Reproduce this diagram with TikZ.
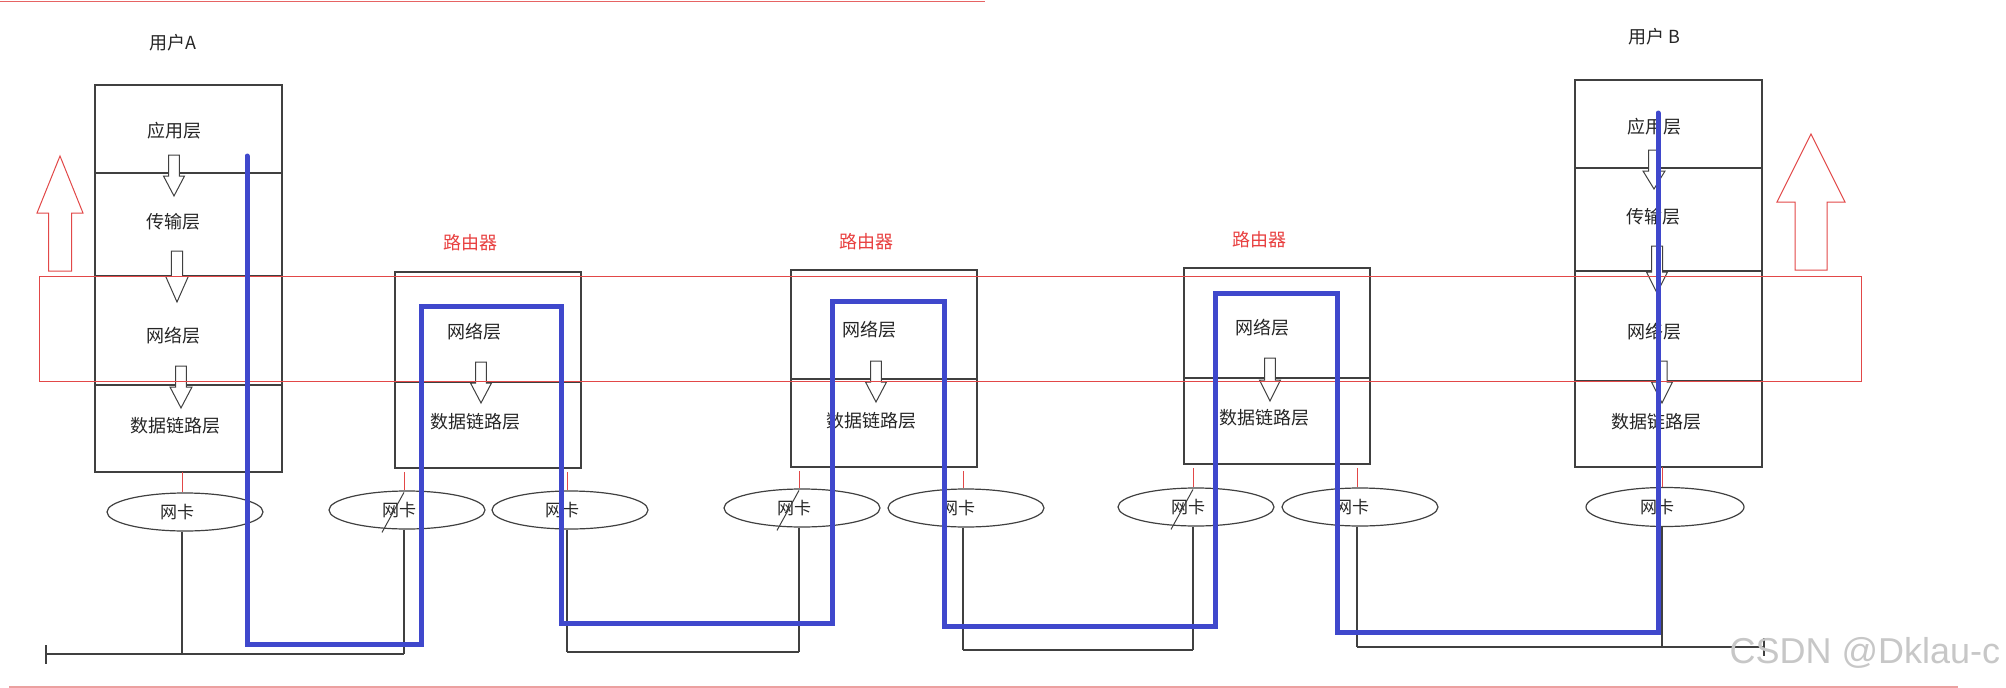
\documentclass[tikz,border=0pt]{standalone}
\usepackage{fontspec}
\newfontfamily\cjk{Noto Sans CJK SC}
\newfontfamily\wmfont{Liberation Sans}
\usetikzlibrary{shapes.geometric,calc}
\definecolor{pathblue}{RGB}{63,72,204}
\definecolor{linegray}{RGB}{64,64,64}
\definecolor{bandred}{RGB}{226,72,72}
\definecolor{labelred}{RGB}{232,64,64}
\definecolor{pinkline}{RGB}{236,160,160}
\newcommand\harrow[7]{\draw[#1] (#2-#6,#3) -- (#2+#6,#3) -- (#2+#6,#4) -- (#2+#7,#4) -- (#2,#5) -- (#2-#7,#4) -- (#2-#6,#4) -- cycle;}
\begin{document}
\begin{tikzpicture}[x=1pt,y=-1pt,
  cell/.style={draw=linegray, line width=1.4pt, inner sep=0pt, outer sep=0pt, anchor=north west},
  layertext/.style={font=\cjk\fontsize{18}{20}\selectfont, text=black!85, inner sep=0pt},
  routerlabel/.style={font=\cjk\fontsize{18}{20}\selectfont, text=labelred, inner sep=0pt},
  nic/.style={ellipse, draw=linegray, line width=1.2pt, minimum width=156pt, minimum height=38pt, inner sep=0pt},
  nictext/.style={font=\cjk\fontsize{17}{19}\selectfont, text=black!85, inner sep=0pt},
  blk/.style={draw=linegray, line width=1.3pt},
  redthin/.style={draw=bandred, line width=1pt},
  hollow/.style={draw=linegray, line width=1pt, fill=white},
  redhollow/.style={draw=bandred, line width=1pt, fill=white},
  route/.style={draw=pathblue, line width=5pt, line cap=round, line join=miter}
]
\useasboundingbox (0,0) rectangle (2006,688);

% frame lines
\draw[draw=bandred!85, line width=1pt] (0,1) -- (985,1);
\draw[draw=pinkline, line width=1.5pt] (9,687) -- (1958,687);

% ---- user A stack
\node[layertext] (labA) at (173,43) {用户A};
\node[cell, minimum width=187pt, minimum height=88pt]  (A1) at (95,85) {};
\node[cell, minimum width=187pt, minimum height=103pt] (A2) at (95,173) {};
\node[cell, minimum width=187pt, minimum height=109pt] (A3) at (95,276) {};
\node[cell, minimum width=187pt, minimum height=87pt]  (A4) at (95,385) {};
\node[layertext] (tA1) at (174,131) {应用层};
\node[layertext] (tA2) at (173,222) {传输层};
\node[layertext] (tA3) at (173,336) {网络层};
\node[layertext] (tA4) at (175,426) {数据链路层};
\harrow{hollow}{174}{155}{176}{196}{5.3}{10.5}
\harrow{hollow}{177}{251}{276}{302}{5.7}{11.5}
\harrow{hollow}{181}{366}{387}{408}{5.3}{11}

% ---- user B stack
\node[layertext] (labB) at (1654,37) {用户 B};
\node[cell, minimum width=187pt, minimum height=88pt]  (B1) at (1575,80) {};
\node[cell, minimum width=187pt, minimum height=103pt] (B2) at (1575,168) {};
\node[cell, minimum width=187pt, minimum height=110pt] (B3) at (1575,271) {};
\node[cell, minimum width=187pt, minimum height=86pt]  (B4) at (1575,381) {};
\node[layertext] (tB1) at (1654,127) {应用层};
\node[layertext] (tB2) at (1653,217) {传输层};
\node[layertext] (tB3) at (1654,332) {网络层};
\node[layertext] (tB4) at (1656,422) {数据链路层};
\harrow{hollow}{1654}{150}{171}{189}{5.5}{11}
\harrow{hollow}{1657}{246}{272}{293}{5.5}{10.5}
\harrow{hollow}{1662}{361}{382}{403}{5}{10.5}

% ---- routers
\node[routerlabel] (labR1) at (470,243) {路由器};
\node[cell, minimum width=186pt, minimum height=110pt] (R1a) at (395,272) {};
\node[cell, minimum width=186pt, minimum height=86pt]  (R1b) at (395,382) {};
\node[layertext] (tR1a) at (474,332) {网络层};
\node[layertext] (tR1b) at (475,422) {数据链路层};
\harrow{hollow}{481}{362}{383}{403}{5.3}{10.5}

\node[routerlabel] (labR2) at (866,242) {路由器};
\node[cell, minimum width=186pt, minimum height=109pt] (R2a) at (791,270) {};
\node[cell, minimum width=186pt, minimum height=88pt]  (R2b) at (791,379) {};
\node[layertext] (tR2a) at (869,330) {网络层};
\node[layertext] (tR2b) at (871,421) {数据链路层};
\harrow{hollow}{876}{361}{382}{402}{5.3}{10.5}

\node[routerlabel] (labR3) at (1259,240) {路由器};
\node[cell, minimum width=186pt, minimum height=110pt] (R3a) at (1184,268) {};
\node[cell, minimum width=186pt, minimum height=86pt]  (R3b) at (1184,378) {};
\node[layertext] (tR3a) at (1262,328) {网络层};
\node[layertext] (tR3b) at (1264,418) {数据链路层};
\harrow{hollow}{1270}{358}{380}{401}{5.3}{10.5}

% ---- network cards
\node[nic] (nicA) at (185,512) {};
\node[nic, minimum width=158pt, minimum height=39pt] (nicB) at (1665,507) {};
\node[nic] (nicR1a) at (407,510) {};
\node[nic] (nicR1b) at (570,510) {};
\node[nic] (nicR2a) at (802,508) {};
\node[nic] (nicR2b) at (966,508) {};
\node[nic] (nicR3a) at (1196,507) {};
\node[nic] (nicR3b) at (1360,507) {};
\foreach \n in {A,B,R1a,R1b,R2a,R2b,R3a,R3b}{
  \node[nictext] (t\n) at ([xshift=-8pt]nic\n.center) {网卡};
  \coordinate (p\n) at ([xshift=-3pt]nic\n.north);
  \coordinate (q\n) at ([xshift=-3pt]nic\n.south);
}

% red links box -> card
\draw[redthin] (pA |- A4.south) -- (pA);
\draw[redthin] (pB |- B4.south) -- (pB);
\coordinate (R1bot) at ([yshift=-4pt]R1b.south);
\coordinate (R2bot) at ([yshift=-4pt]R2b.south);
\coordinate (R3bot) at ([yshift=-4pt]R3b.south);
\draw[redthin] (pR1a |- R1bot) -- (pR1a);
\draw[redthin] (pR1b |- R1bot) -- (pR1b);
\draw[redthin] (pR2a |- R2bot) -- (pR2a);
\draw[redthin] (pR2b |- R2bot) -- (pR2b);
\draw[redthin] (pR3a |- R3bot) -- (pR3a);
\draw[redthin] (pR3b |- R3bot) -- (pR3b);

% small slanted strokes on router input cards
\draw[blk, line width=1pt] ([shift={(-3pt,-2pt)}]nicR1a.north) -- ([shift={(-25pt,-42pt)}]nicR1a.north);
\draw[blk, line width=1pt] ([shift={(-3pt,-2pt)}]nicR2a.north) -- ([shift={(-25pt,-42pt)}]nicR2a.north);
\draw[blk, line width=1pt] ([shift={(-3pt,-2pt)}]nicR3a.north) -- ([shift={(-25pt,-42pt)}]nicR3a.north);

% cables
\coordinate (bus1) at (46,654);
\coordinate (bus2) at (0,652);
\coordinate (bus3) at (0,650);
\coordinate (bus4) at (1764,647);
\draw[blk] (qA) -- (qA |- bus1);
\draw[blk] (qR1a) -- (qR1a |- bus1);
\draw[blk] (bus1) -- (qR1a |- bus1);
\draw[blk] ([yshift=9pt]bus1) -- ([yshift=-10pt]bus1);
\draw[blk] (qR1b) -- (qR1b |- bus2);
\draw[blk] (qR2a) -- (qR2a |- bus2);
\draw[blk] (qR1b |- bus2) -- (qR2a |- bus2);
\draw[blk] (qR2b) -- (qR2b |- bus3);
\draw[blk] (qR3a) -- (qR3a |- bus3);
\draw[blk] (qR2b |- bus3) -- (qR3a |- bus3);
\draw[blk] (qR3b) -- (qR3b |- bus4);
\draw[blk] (qB) -- (qB |- bus4);
\draw[blk] (qR3b |- bus4) -- (bus4);
\draw[blk] ([yshift=9pt]bus4) -- ([yshift=-9pt]bus4);

% red band around network + data link layers
\draw[redthin] (39,276) rectangle (1861,381);

% red hollow up arrows
\harrow{redhollow}{60}{271}{213}{156}{11.5}{23}
\harrow{redhollow}{1811}{270}{202}{134}{16}{34}

% blue route of the data
\coordinate (routeStart) at (247,156);
\coordinate (routeEnd) at (1658,113);
\draw[route] (routeStart) -- (247,644) -- (421,644) -- (421,306) -- (561,306)
  -- (561,623) -- (832,623) -- (832,301) -- (944,301) -- (944,626)
  -- (1215,626) -- (1215,293) -- (1337,293) -- (1337,632) -- (1658,632) -- (routeEnd);

% watermark
\node[font=\wmfont\fontsize{36}{40}\selectfont, text=black!22, inner sep=0pt] (wm) at (1865,653) {CSDN @Dklau-c};
\end{tikzpicture}
\end{document}
